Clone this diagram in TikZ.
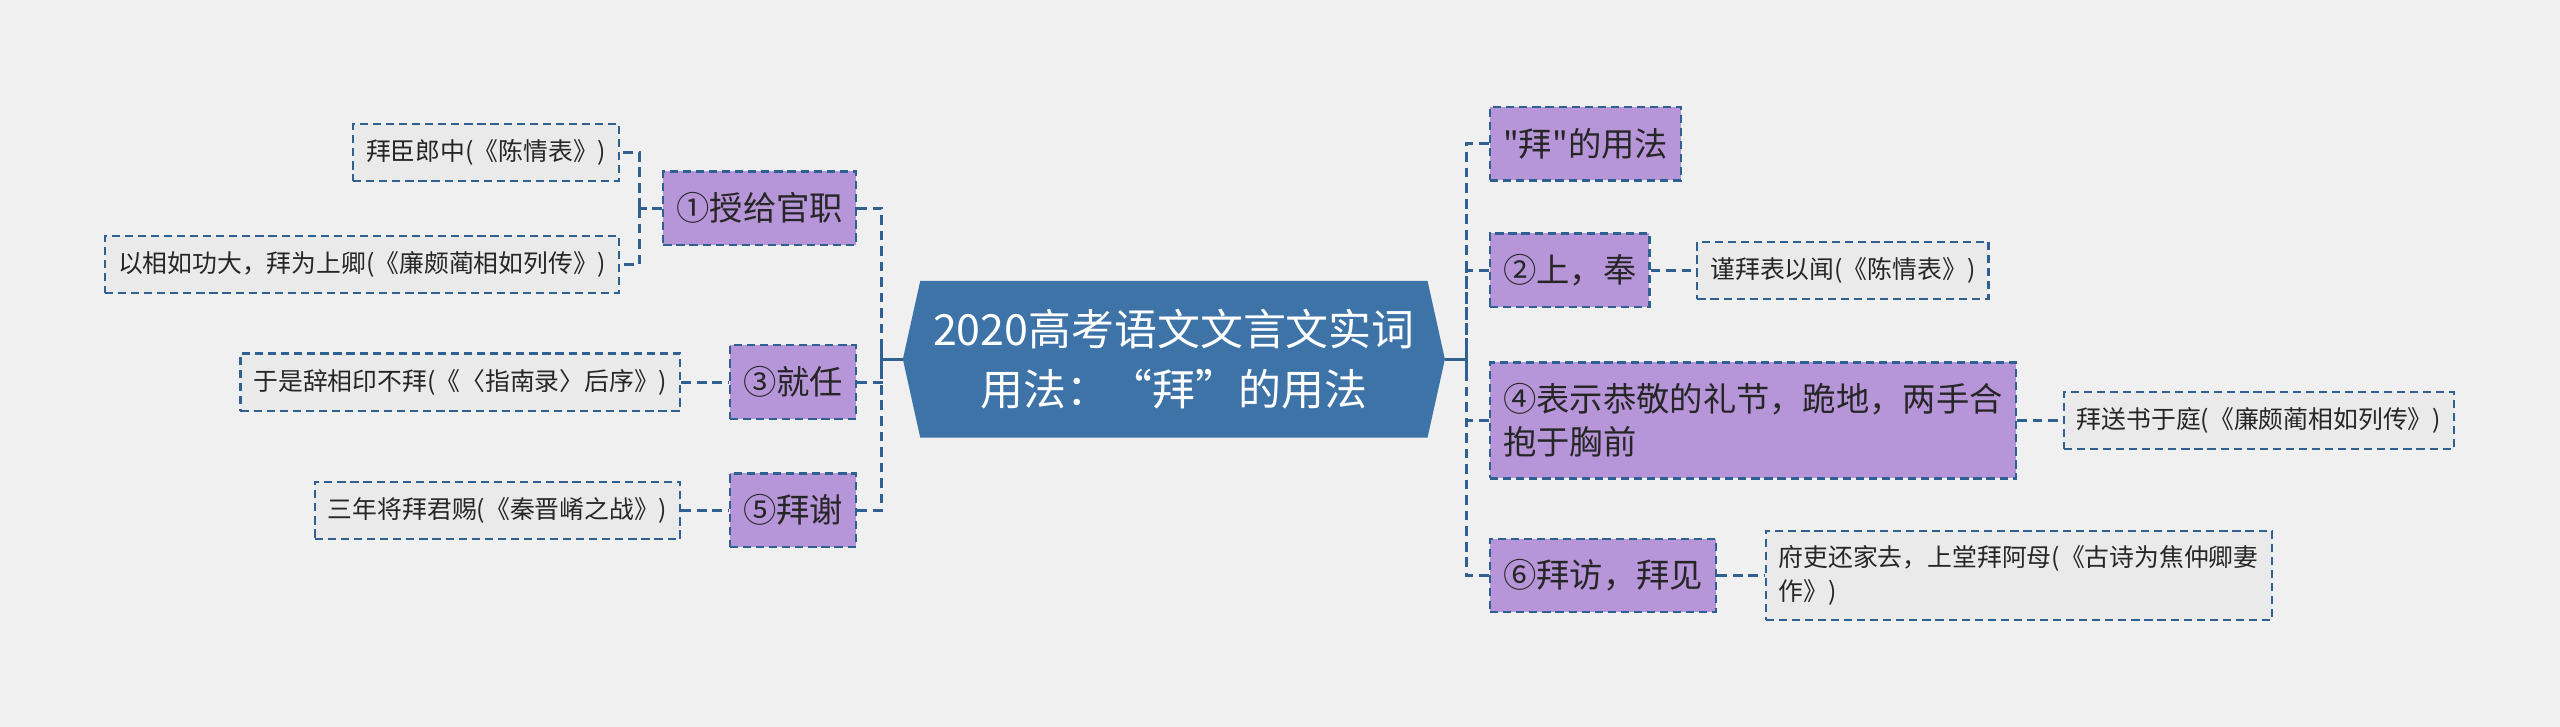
\documentclass[tikz,border=0pt]{standalone}
\usepackage{fontspec}
\setmainfont{Noto Sans CJK SC}[Ligatures=TeXOff]
\usepackage{tikz}
\usetikzlibrary{
  positioning,
  shapes.symbols
}
\definecolor{mapbg}{RGB}{240,240,240}
\definecolor{mapblue}{RGB}{62,115,168}
\definecolor{mapline}{RGB}{46,96,146}
\definecolor{mappurple}{RGB}{182,150,217}
\definecolor{mapleaf}{RGB}{234,234,234}
\definecolor{maptext}{RGB}{38,38,38}
\tikzset{
  mapRoot/.style={
    signal,
    signal to=west and east,
    signal pointer angle=155,
    fill=mapblue,
    text=white,
    minimum width=332pt,
    minimum height=96pt,
    inner sep=0pt,
    align=center,
    font=\fontsize{26.3}{37}\selectfont
  },
  mapTopic/.style={
    rectangle,
    draw=mapline,
    fill=mappurple,
    line width=1.4pt,
    dash pattern=on 5pt off 3pt,
    text=maptext,
    minimum height=45pt,
    inner xsep=8pt,
    align=left,
    font=\fontsize{20.4}{26}\selectfont
  },
  mapLeaf/.style={
    rectangle,
    draw=mapline,
    fill=mapleaf,
    line width=1.3pt,
    dash pattern=on 5pt off 3pt,
    text=maptext,
    minimum height=35pt,
    inner xsep=8pt,
    align=left,
    font=\fontsize{15.2}{21}\selectfont
  },
  mapLink/.style={
    draw=mapline,
    line width=1.8pt,
    dash pattern=on 6pt off 3.5pt
  },
  mapStub/.style={
    draw=mapline,
    line width=2pt
  }
}

\begin{document}
\begin{tikzpicture}[x=1pt, y=-1pt]
  \fill[mapbg] (0,0) rectangle (1568,445);
  \useasboundingbox (0,0) rectangle (1568,445);

  \node[mapRoot] (root) at (719,220)
    {2020高考语文文言文实词\\用法：“拜”的用法};

  \node[mapTopic, anchor=east] (give) at (525,127.5) {①授给官职};
  \node[mapTopic, anchor=east] (take) at (525,234) {③就任};
  \node[mapTopic, anchor=east] (thank) at (525,312.5) {⑤拜谢};

  \node[mapLeaf, anchor=east] (giveA) at (380,93.5)
    {拜臣郎中(《陈情表》)};
  \node[mapLeaf, anchor=east] (giveB) at (380,162)
    {以相如功大，拜为上卿(《廉颇蔺相如列传》)};
  \node[mapLeaf, left=29pt of take] (takeA)
    {于是辞相印不拜(《〈指南录〉后序》)};
  \node[mapLeaf, left=29pt of thank] (thankA)
    {三年将拜君赐(《秦晋崤之战》)};

  \node[mapTopic, anchor=west] (usage) at (912,88) {"拜"的用法};
  \node[mapTopic, anchor=west] (offer) at (912,165.5) {②上，奉};
  \node[mapTopic, anchor=west, minimum height=71pt] (bow) at (912,257.5)
    {④表示恭敬的礼节，跪地，两手合\\抱于胸前};
  \node[mapTopic, anchor=west] (visit) at (912,352.5) {⑥拜访，拜见};

  \node[mapLeaf, right=28pt of offer] (offerA)
    {谨拜表以闻(《陈情表》)};
  \node[mapLeaf, right=28pt of bow] (bowA)
    {拜送书于庭(《廉颇蔺相如列传》)};
  \node[mapLeaf, right=29pt of visit, minimum height=55pt] (visitA)
    {府吏还家去，上堂拜阿母(《古诗为焦仲卿妻\\作》)};

  \draw[mapStub] (root.west) -- ++(-13,0) coordinate (lhub);
  \draw[mapStub] (root.east) -- ++(13,0) coordinate (rhub);
  \draw[mapStub] ([yshift=-8pt]lhub) -- ([yshift=8pt]lhub);
  \draw[mapStub] ([yshift=-8pt]rhub) -- ([yshift=8pt]rhub);

  \draw[mapLink] (give.east) -| (lhub);
  \draw[mapLink] (take.east) -| (lhub);
  \draw[mapLink] (thank.east) -| (lhub);

  \draw[mapLink] (usage.west) -| (rhub);
  \draw[mapLink] (offer.west) -| (rhub);
  \draw[mapLink] (bow.west) -| (rhub);
  \draw[mapLink] (visit.west) -| (rhub);

  \draw[mapLink] (give.west) -- ++(-14,0) coordinate (ghub);
  \draw[mapLink] (ghub) |- (giveA.east);
  \draw[mapLink] (ghub) |- (giveB.east);
  \draw[mapLink] (takeA.east) -- (take.west);
  \draw[mapLink] (thankA.east) -- (thank.west);

  \draw[mapLink] (offer.east) -- (offerA.west);
  \draw[mapLink] (bow.east) -- (bowA.west);
  \draw[mapLink] (visit.east) -- (visitA.west);
\end{tikzpicture}
\end{document}
